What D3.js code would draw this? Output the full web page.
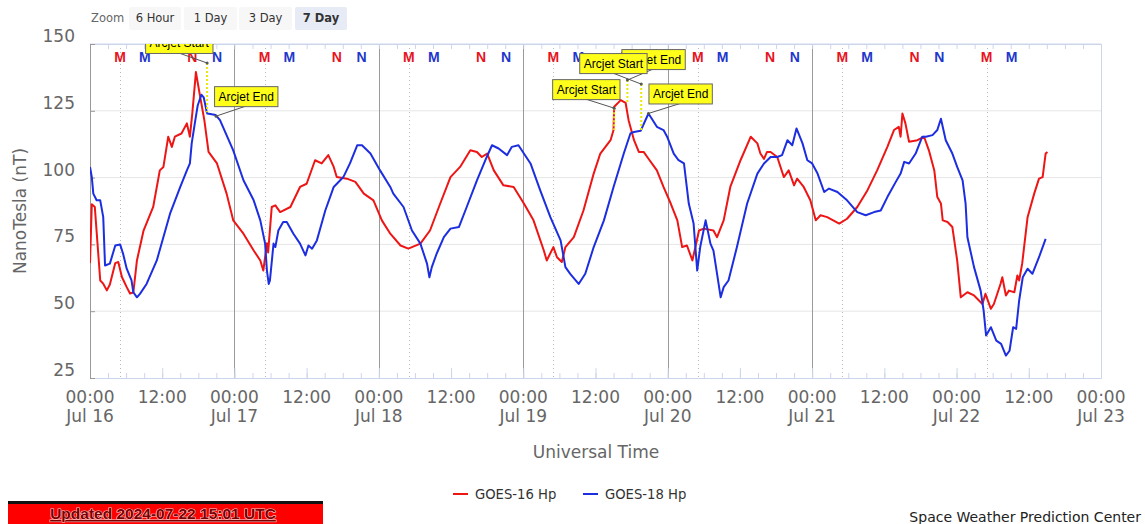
<!DOCTYPE html>
<html><head><meta charset="utf-8">
<script src="https://cdn.jsdelivr.net/npm/d3@7"></script>
<style>html,body{margin:0;padding:0;background:#fff;} svg{display:block;}</style>
</head><body>
<svg id="chart" width="1145" height="524"></svg>
<script>
// ---------------- DATA ----------------
const startUTC = Date.UTC(2024, 6, 16);
const endUTC = Date.UTC(2024, 6, 23);
const dayLabels = ["Jul 16","Jul 17","Jul 18","Jul 19","Jul 20","Jul 21","Jul 22","Jul 23"];
const yTicks = [25, 50, 75, 100, 125, 150];
const seriesNames = ["GOES-16 Hp", "GOES-18 Hp"];
const zoomButtons = ["6 Hour", "1 Day", "3 Day", "7 Day"];
const selectedZoom = "7 Day";
const updatedText = "Updated 2024-07-22 15:01 UTC";
const creditText = "Space Weather Prediction Center";
const dataEndHour = 159.02;
// local midnight (M) / noon (N) in UTC hours for each satellite
const g16Marks = [["M", 5.0], ["N", 17.0]];
const g18Marks = [["M", 9.13], ["N", 21.13]];
const solidDayLines = [1, 2, 3, 4, 5];

// [hours since Jul 16 00:00 UTC, nT]
const goes16 = [
[0,68],[0.3,90],[0.8,89],[1.7,61.5],[2.2,60.3],[2.8,57.8],[3.3,60],[4.2,68],[4.7,68.4],[5.3,62.8],[6.1,59],[6.65,56.6],[7.2,57],[7.8,69],[8.9,80.2],[10.5,89],[11.6,102.7],[12.2,104],[13.0,115.3],[13.6,111.5],[14.1,115.3],[15.2,116.5],[16.1,120.3],[16.6,115.3],[17.0,124],[17.6,139.5],[18.2,131.6],[19.0,121.5],[19.7,109.6],[21.1,105.3],[22.7,94],[23.8,84],[25.5,79],[27.2,72.7],[28.3,69],[28.8,65.2],[29.4,75.4],[29.6,72],[30.2,89],[30.8,89.6],[31.6,87.1],[33.3,89],[34.9,96.5],[36.0,97.7],[37.4,106.5],[38.5,105.3],[39.6,108.4],[40.5,104],[41,100.2],[42.7,99.6],[44.1,98.4],[45.5,94],[47.1,91.5],[48.5,84],[49.9,79],[51.6,74.6],[52.9,73.4],[54.9,75.3],[56.5,80.2],[58.2,90.3],[59.9,100.2],[61.5,104],[63.2,110.2],[64.3,109.6],[65.1,107.7],[66,109],[67.1,102.7],[68.7,97.1],[70.4,96.5],[72.1,90.3],[73.7,84],[75.4,72.8],[75.9,69],[77,74],[77.6,70.2],[78.4,68.4],[79,74],[80.4,77.7],[82,87.7],[83.7,101.5],[84.8,109],[86.5,114],[87.0,117.8],[87.1,126.5],[88.2,129],[89.0,128],[89.5,121.5],[90.4,114],[91.2,109.6],[92,109.6],[92.6,107.7],[94.2,102.7],[95.3,96.5],[96.5,90.3],[97.6,84],[98.4,74],[99.2,74.6],[100.1,69],[100.6,74],[101.2,80.2],[102,80.9],[103.6,80.2],[104.2,77.7],[105.3,84],[106.4,96.5],[108.1,106.5],[109.8,115.3],[110.9,112.8],[111.4,109],[112,107],[112.5,109.6],[113.1,109.6],[114.2,107.7],[115.3,100.2],[116.1,102.7],[117,97.1],[117.5,99.6],[118.6,96.5],[119.7,91.5],[120.6,84],[121.4,85.9],[122.5,85.2],[124.5,82.8],[125.8,84.6],[127.5,89],[129.2,95.3],[130.8,102.7],[132.5,111.5],[133.6,117.8],[134.4,119],[134.7,115.3],[135,124],[135.5,120.3],[136.1,113.4],[137.5,114],[138.6,115.3],[139.4,110.2],[140.3,102.7],[140.8,92.7],[141.4,90.3],[141.7,84],[142.5,83.4],[143.3,81.5],[144.1,69],[144.7,55.2],[145.8,57.1],[146.9,55.9],[148.3,52.7],[148.8,56.5],[149.7,50.9],[150.2,52.7],[151.3,60.2],[151.6,62.7],[152.2,55.9],[152.7,57.7],[153.6,57.1],[154.1,63.4],[154.4,61.5],[154.9,67.8],[155.8,85.2],[156.9,94],[157.7,99.6],[158.3,100.2],[158.8,109],[159.1,109.6]
];
const goes18 = [
[0,104],[0.3,100.2],[0.55,94],[1.1,91.5],[1.7,91.5],[2.2,85.2],[2.5,67.1],[3.3,67.8],[4.2,74.6],[5,75],[5.5,71.5],[6.1,65.9],[6.9,61.5],[7.2,57.1],[7.8,55.2],[8.3,56.5],[9.4,60.2],[11.1,69],[13.3,86.5],[15,96.5],[16.1,102.7],[16.6,105.3],[16.9,112.8],[17.5,121.5],[17.9,127],[18.5,131],[18.9,130],[19.4,124.5],[19.5,124],[20.9,123.4],[21.6,121.5],[23.8,110.2],[25.5,99],[27.2,91.5],[28.3,84],[29.1,75.3],[29.4,65.2],[29.7,60.2],[29.9,61.5],[30.5,75.3],[30.8,74],[31.3,80.2],[32.1,83.4],[32.7,83.4],[33.8,79],[34.9,75.3],[35.8,70.9],[36.3,74.6],[36.9,73.4],[37.7,76.5],[39.1,87.7],[40.5,96.5],[42.1,100.2],[43.2,105.3],[44.4,112.1],[45.2,112.1],[46.6,109],[48.2,102.7],[49.9,96.5],[50.4,94],[52.1,89],[53.5,80.2],[54.9,75.3],[56,67.8],[56.4,62.7],[56.8,66.5],[57.6,71.5],[58.8,77.7],[59.9,80.9],[61.3,81.5],[62.6,89],[64.3,99],[65.7,106.5],[66.8,112.1],[67.9,110.9],[69.3,108.4],[70.1,111.5],[71.2,112.1],[72.1,109],[73.2,105.3],[74.8,95.3],[76.5,85.2],[78.2,76.5],[79,66.5],[79.8,64],[81.2,60.2],[82.3,64],[83.7,74],[85.4,84],[87,96.5],[88.7,109],[89.8,116.5],[90.4,117.1],[91.5,117.5],[92.8,124],[94.2,119],[95.3,117.8],[95.9,115.3],[97,109],[97.8,106.5],[98.7,105.3],[99.5,90.3],[100.3,82.8],[100.9,65.2],[101.4,74],[102.3,84],[103.1,75.3],[103.6,72.7],[104.2,64],[104.8,55.2],[105.3,59],[106.1,61.5],[107.5,74],[109.2,90.3],[110.9,101.5],[112,105.3],[113.1,107.7],[114.2,107.7],[115,108.4],[115.9,114],[116.7,112.1],[117.4,118.4],[118.4,112.8],[119.2,106.5],[120,105.3],[120.9,101.5],[122,94.6],[122.8,95.9],[124.2,94.6],[125.8,91.5],[127.5,87.1],[128.9,85.9],[130.3,87.1],[131.4,87.7],[132.5,92.7],[133.9,98.4],[134.7,101.5],[135.3,105.9],[136.1,105.3],[137.2,109],[138.3,115.3],[138.9,115.3],[140,115.9],[140.8,117.8],[141.4,122],[142.2,114],[143.3,109],[144.1,104],[145,99],[145.5,90.3],[145.8,77.7],[146.9,66.5],[148,57.7],[148.5,50.2],[148.9,40.9],[149.7,44],[150.6,39],[151.4,37.8],[152.2,33.4],[152.8,35.2],[153.4,44],[153.9,43.4],[154.4,54],[155,62.7],[155.8,65.9],[156.6,64],[157.7,70.2],[158.8,77.1]
];

// Arcjet annotations (drawn in this order; later ones on top)
const arcjetLabels = ["Arcjet Start","Arcjet End","Arcjet Start","Arcjet End","Arcjet Start","Arcjet End"];
const arcjetHours  = [19.46, 20.95, 87.1, 89.3, 91.6, 92.8];
const arcjetValues = [142.9, 123.0, 126.0, 136.5, 135.0, 124.0];
const arcjetBase   = [124.5, 123.0, 117.8, 128.0, 117.5, 124.0];

// ---------------- LAYOUT ----------------
const L = 90, R = 1101, T = 44, B = 378;
const boxOffsets = [[-62,-30],[-2,-30],[-62,-29],[-6,-31],[-62,-31],[0,-30]];
const colors = ["#ee1515", "#1c2ee0"];
const markColors = ["#e8141e", "#2236cc"];
const axisFont = "DejaVu Sans, Verdana, sans-serif";

const svg = d3.select("#chart");
const hourToDate = h => new Date(startUTC + h * 3600e3);
const x = d3.scaleUtc().domain([new Date(startUTC), new Date(endUTC)]).range([L, R]);
const y = d3.scaleLinear().domain([25, 150]).range([B, T]);

svg.append("defs").append("clipPath").attr("id", "plotclip")
  .append("rect").attr("x", L).attr("y", T).attr("width", R - L).attr("height", B - T);

// horizontal grid
svg.append("g").selectAll("line").data(yTicks.filter(v => v > 25)).join("line")
  .attr("x1", L).attr("x2", R).attr("y1", d => y(d)).attr("y2", d => y(d))
  .attr("stroke", d => d === 150 ? "#ccd6eb" : "#e6e6e6").attr("stroke-width", 1);

// right border
svg.append("line").attr("x1", R + 0.5).attr("x2", R + 0.5).attr("y1", T).attr("y2", B)
  .attr("stroke", "#ccd6eb");

// dotted vertical lines at GOES-16 local midnight
const dottedHours = d3.range(0, 7).map(d => d * 24 + g16Marks[0][1]);
svg.append("g").selectAll("line").data(dottedHours).join("line")
  .attr("x1", d => Math.round(x(hourToDate(d))) + 0.5).attr("x2", d => Math.round(x(hourToDate(d))) + 0.5)
  .attr("y1", T).attr("y2", B).attr("stroke", "#b8b8b8").attr("stroke-width", 1)
  .attr("stroke-dasharray", "1,3");

// solid day lines
svg.append("g").selectAll("line").data(solidDayLines).join("line")
  .attr("x1", d => Math.round(x(hourToDate(d * 24))) + 0.5).attr("x2", d => Math.round(x(hourToDate(d * 24))) + 0.5)
  .attr("y1", T).attr("y2", B).attr("stroke", "#9a9a9a").attr("stroke-width", 1);

// bottom axis ticks (3h minor, 12h major)
const bottomMinor = d3.axisBottom(x).ticks(d3.utcHour.every(3)).tickSize(-5).tickFormat("");
const gb = svg.append("g").attr("transform", `translate(0,${B})`).call(bottomMinor);
gb.select(".domain").attr("stroke", "#ccd6eb");
gb.selectAll(".tick line").attr("stroke", "#ccd6eb");
const bottomMajor = d3.axisBottom(x).ticks(d3.utcHour.every(12)).tickSize(-10).tickFormat("");
const gb2 = svg.append("g").attr("transform", `translate(0,${B})`).call(bottomMajor);
gb2.select(".domain").remove();
gb2.selectAll(".tick line").attr("stroke", "#ccd6eb");

// top axis ticks
const topMinor = d3.axisTop(x).ticks(d3.utcHour.every(3)).tickSize(-5).tickFormat("");
const gt = svg.append("g").attr("transform", `translate(0,${T})`).call(topMinor);
gt.select(".domain").attr("stroke", "#ccd6eb");
gt.selectAll(".tick line").attr("stroke", "#ccd6eb");

// bottom labels
const labelTicks = d3.utcHour.every(12).range(new Date(startUTC), new Date(endUTC + 1));
const lbl = svg.append("g").attr("font-family", axisFont).attr("font-size", 17).attr("fill", "#666")
  .attr("text-anchor", "middle");
labelTicks.forEach(t => {
  const h = t.getUTCHours();
  const tx = x(t);
  const txt = lbl.append("text").attr("x", tx).attr("y", 403);
  txt.append("tspan").attr("x", tx).text(d3.utcFormat("%H:%M")(t));
  if (h === 0) {
    const di = Math.round((t - startUTC) / 864e5);
    txt.append("tspan").attr("x", tx).attr("dy", 19).text(dayLabels[di]);
  }
});

// left axis
const yAxis = d3.axisLeft(y).tickValues(yTicks).tickSize(-5).tickPadding(15).tickFormat(d3.format("d"));
const gy = svg.append("g").attr("transform", `translate(${L},0)`).call(yAxis);
gy.select(".domain").attr("stroke", "#999");
gy.selectAll(".tick line").attr("stroke", "#999");
gy.selectAll(".tick text").attr("font-family", axisFont).attr("font-size", 17).attr("fill", "#666")
  .attr("y", -8);

// axis titles
svg.append("text").attr("transform", "translate(26,211) rotate(-90)").attr("text-anchor", "middle")
  .attr("font-family", axisFont).attr("font-size", 17).attr("fill", "#666").text("NanoTesla (nT)");
svg.append("text").attr("x", 596).attr("y", 458).attr("text-anchor", "middle")
  .attr("font-family", axisFont).attr("font-size", 17).attr("fill", "#666").text("Universal Time");

// M / N markers
const markG = svg.append("g").attr("font-family", "Liberation Sans, Arial, sans-serif")
  .attr("font-weight", "bold").attr("font-size", 14).attr("text-anchor", "middle");
[g16Marks, g18Marks].forEach((marks, si) => {
  for (let d = 0; d < 7; d++) {
    marks.forEach(([letter, hr]) => {
      const h = d * 24 + hr;
      if (h > dataEndHour) return;
      markG.append("text").attr("x", x(hourToDate(h))).attr("y", 62)
        .attr("fill", markColors[si]).text(letter);
    });
  }
});

// series lines
const plot = svg.append("g").attr("clip-path", "url(#plotclip)");
const line = d3.line().x(d => x(hourToDate(d[0]))).y(d => y(d[1])).curve(d3.curveLinear);
[goes16, goes18].forEach((s, i) => {
  plot.append("path").datum(s).attr("d", line).attr("fill", "none")
    .attr("stroke", colors[i]).attr("stroke-width", 2).attr("stroke-linejoin", "round");
});

// arcjet annotations
const ann = svg.append("g").attr("clip-path", "url(#plotclip)");
arcjetLabels.forEach((label, i) => {
  const px = x(hourToDate(arcjetHours[i])), py = y(arcjetValues[i]);
  const pb = y(arcjetBase[i]);
  ann.append("line").attr("x1", px).attr("x2", px).attr("y1", py).attr("y2", pb)
    .attr("stroke", "#e8e800").attr("stroke-width", 2).attr("stroke-dasharray", "2,2");
});
arcjetLabels.forEach((label, i) => {
  const px = x(hourToDate(arcjetHours[i])), py = y(arcjetValues[i]);
  const bx = px + boxOffsets[i][0], by = py + boxOffsets[i][1];
  const g = ann.append("g");
  const t = g.append("text").attr("font-family", "Liberation Sans, Arial, sans-serif")
    .attr("font-size", 12).attr("fill", "#000").text(label);
  const w = t.node().getComputedTextLength() + 8;
  const h = 20;
  g.insert("line", "text").attr("x1", bx + w / 2).attr("y1", by + h).attr("x2", px).attr("y2", py)
    .attr("stroke", "#555").attr("stroke-width", 1);
  g.insert("rect", "text").attr("x", bx + 0.5).attr("y", by + 0.5).attr("width", w).attr("height", h)
    .attr("fill", "#ffff1a").attr("stroke", "#666").attr("stroke-width", 1);
  t.attr("x", bx + 4.5).attr("y", by + 14.5);
  g.append("circle").attr("cx", px).attr("cy", py).attr("r", 1.5).attr("fill", "#555");
});

// zoom buttons
const zb = svg.append("g").attr("font-family", axisFont);
zb.append("text").attr("x", 91).attr("y", 22).attr("font-size", 11.5).attr("fill", "#666").text("Zoom");
const btnX = [129, 184, 239, 295], btnW = [52, 53, 53, 52];
zoomButtons.forEach((b, i) => {
  const sel = b === selectedZoom;
  zb.append("rect").attr("x", btnX[i]).attr("y", 7).attr("width", btnW[i]).attr("height", 23).attr("rx", 2)
    .attr("fill", sel ? "#e6ebf5" : "#f7f7f7");
  zb.append("text").attr("x", btnX[i] + btnW[i] / 2).attr("y", 22).attr("text-anchor", "middle")
    .attr("font-size", 11.5).attr("fill", "#333").attr("font-weight", sel ? "bold" : "normal").text(b);
});

// legend
const legX = [453, 583];
seriesNames.forEach((n, i) => {
  svg.append("line").attr("x1", legX[i]).attr("x2", legX[i] + 15).attr("y1", 494).attr("y2", 494)
    .attr("stroke", colors[i]).attr("stroke-width", 2);
  svg.append("text").attr("x", legX[i] + 22).attr("y", 499).attr("font-family", axisFont)
    .attr("font-size", 13.2).attr("fill", "#333").text(n);
});

// updated bar
svg.append("rect").attr("x", 8).attr("y", 504).attr("width", 315).attr("height", 20).attr("fill", "#ff0000");
svg.append("rect").attr("x", 8).attr("y", 501).attr("width", 315).attr("height", 3).attr("fill", "#111");
svg.append("text").attr("x", 163).attr("y", 519).attr("text-anchor", "middle")
  .attr("font-family", "Liberation Sans, Arial, sans-serif").attr("font-weight", "bold").attr("font-size", 15.5)
  .attr("fill", "#7a0000").attr("stroke", "#ffd0d0").attr("stroke-width", 1.2).attr("paint-order", "stroke")
  .attr("text-decoration", "underline").text(updatedText);

// credit
svg.append("text").attr("x", 1141).attr("y", 522).attr("text-anchor", "end")
  .attr("font-family", axisFont).attr("font-size", 14).attr("fill", "#222").text(creditText);
</script>
</body></html>
